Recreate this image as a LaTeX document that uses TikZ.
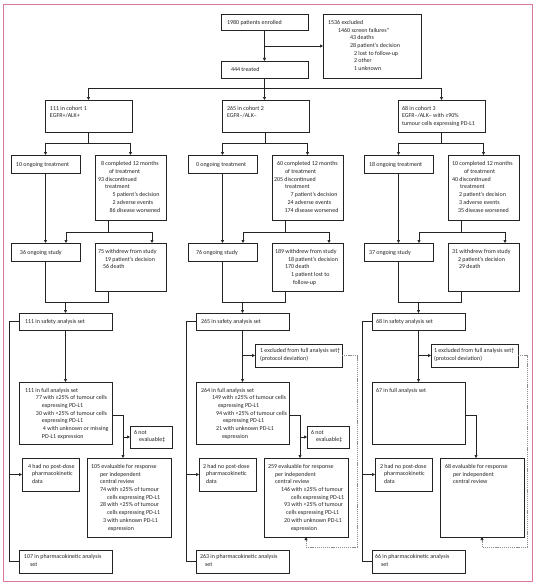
\documentclass[tikz,border=0pt]{standalone}
\usepackage{fontspec}
\setmainfont{Carlito}
\usetikzlibrary{arrows.meta}
\definecolor{framepink}{RGB}{218,118,150}
\definecolor{lnc}{RGB}{35,35,35}
\definecolor{dashc}{RGB}{140,140,140}
\newcommand\fs{\fontsize{6pt}{7.7pt}\selectfont\lineskiplimit=-20pt\relax}
\newcommand\tc[2]{\hspace*{#1pt}\mbox{#2}\par}
\newcommand\colx{0}
\newcommand\bx[7]{\node[boxst] (#1) at (\colx+#2,#3) {\parbox[c][\dimexpr #5pt-#3pt\relax][t]{\dimexpr #4pt-#2pt\relax}{\fs\rule{0pt}{#6pt}#7}};}
\newcommand\stdconn[1]{%
 \coordinate (#1j1) at (\colx+88.5,143);
 \coordinate (#1j2) at (\colx+108,232);
 \coordinate (#1xa) at (\colx+66,232);
 \coordinate (#1xc) at (\colx+152,232);
 \coordinate (#1j4) at (\colx+108,302);
 \coordinate (#1j3) at (\colx+65.5,302);
 \coordinate (#1j5) at (\colx+123,415);
 \coordinate (#1jl) at (\colx+9,561.5);
 \draw (#1coh.south) -- (#1j1);
 \draw[arr] (#1j1) -| (#1ot.north);
 \draw[arr] (#1j1) -| (#1cp.north);
 \draw[arr] (#1ot.south) -- (#1os.north);
 \draw (#1j2 |- #1cp.south) -- (#1j2);
 \draw (#1xa) -- (#1xc);
 \draw[arr] (#1xa) -- (#1xa |- #1os.north);
 \draw[arr] (#1xc) -- (#1xc |- #1wd.north);
 \draw (#1os.south) |- (#1j4) -- (#1j4 |- #1wd.south);
 \draw[arr] (#1j3) -- (#1j3 |- #1sf.north);
 \draw[arr] (#1sf.south) -- (#1fa.north);
 \draw[arr] (#1fa.east |- #1j5) -| (#1j5 |- #1ev.north);
 \draw (#1sf.west) -| (#1jl) -- (#1pk.west);
 \draw[arr] (#1jl |- #1pd.west) -- (#1pd.west);
}
\tikzset{
 boxst/.style={draw=lnc, line width=0.7pt, inner sep=0pt, outer sep=0pt, anchor=north west},
 arr/.style={-{Triangle[length=3pt,width=3pt]}},
 dline/.style={draw=dashc, dash pattern=on 1.2pt off 0.9pt, -{Triangle[length=3pt,width=3pt,color=lnc]}}
}
\begin{document}
\begin{tikzpicture}[x=1pt,y=-1pt,line width=0.7pt,color=lnc]
\useasboundingbox (0,0) rectangle (537,586);
\draw[framepink, line width=0.9pt] (3,4) rectangle (532,581);

% top
\bx{t1980}{221}{14}{308}{30}{10.4}{\tc{6}{1980 patients enrolled}}
\bx{t1536}{323}{14}{421}{78}{10.4}{%
 \tc{5}{1536 excluded}
 \tc{15}{1460 screen failures*}
 \tc{27}{43 deaths}
 \tc{27}{28 patient’s decision}
 \tc{31}{2 lost to follow-up}
 \tc{31}{2 other}
 \tc{31}{1 unknown}}
\bx{t444}{221}{61}{308}{78}{10}{\tc{10}{444 treated}}

% column 1
\renewcommand\colx{0}
\bx{c1coh}{45}{100}{132}{132}{10}{\tc{5}{111 in cohort 1}\tc{5}{EGFR+/ALK+}}
\bx{c1ot}{11}{155}{80}{173}{11.3}{\tc{5}{10 ongoing treatment}}
\bx{c1cp}{95}{155}{166}{220}{10.8}{%
 \tc{6}{8 completed 12 months}
 \tc{14}{of treatment}
 \tc{3}{93 discontinued}
 \tc{10}{treatment}
 \tc{17.5}{5 patient’s decision}
 \tc{17.5}{2 adverse events}
 \tc{14.5}{86 disease worsened}}
\bx{c1os}{11}{243}{80}{261}{11.5}{\tc{9}{36 ongoing study}}
\bx{c1wd}{95}{243}{166}{291}{10.4}{%
 \tc{3}{75 withdrew from study}
 \tc{10}{19 patient’s decision}
 \tc{8}{56 death}}
\bx{c1sf}{19}{313}{112}{330}{10.8}{\tc{6}{111 in safety analysis set}}
\bx{c1fa}{19}{382}{112}{444}{10}{%
 \tc{6}{111 in full analysis set}
 \tc{17}{77 with ≥25\% of tumour cells}
 \tc{23}{expressing PD-L1}
 \tc{17}{30 with <25\% of tumour cells}
 \tc{23}{expressing PD-L1}
 \tc{24}{4 with unknown or missing}
 \tc{23}{PD-L1 expression}}
\bx{c1ne}{130}{426}{172}{448}{8}{\tc{4}{6 not}\tc{9}{evaluable‡}}
\bx{c1pd}{22}{458}{79}{491}{10}{\tc{6}{4 had no post-dose}\tc{10}{pharmacokinetic}\tc{10}{data}}
\bx{c1ev}{87}{458}{171}{537}{10.4}{%
 \tc{4}{105 evaluable for response}
 \tc{13}{per independent}
 \tc{13}{central review}
 \tc{13}{74 with ≥25\% of tumour}
 \tc{20}{cells expressing PD-L1}
 \tc{13}{28 with <25\% of tumour}
 \tc{20}{cells expressing PD-L1}
 \tc{16}{3 with unknown PD-L1}
 \tc{21}{expression}}
\bx{c1pk}{19}{550}{112}{573}{8.6}{\tc{5}{107 in pharmacokinetic analysis}\tc{11}{set}}
\stdconn{c1}
\draw[arr] (c1j5 |- c1ne.west) -- (c1ne.west);

% column 2
\renewcommand\colx{177}
\bx{c2coh}{45}{100}{132}{132}{10}{\tc{5}{265 in cohort 2}\tc{5}{EGFR–/ALK–}}
\bx{c2ot}{11}{155}{80}{173}{11.3}{\tc{8}{0 ongoing treatment}}
\bx{c2cp}{95}{155}{166}{220}{10.8}{%
 \tc{5}{60 completed 12 months}
 \tc{13}{of treatment}
 \tc{2}{205 discontinued}
 \tc{13}{treatment}
 \tc{18.5}{7 patient’s decision}
 \tc{15.5}{24 adverse events}
 \tc{12.5}{174 disease worsened}}
\bx{c2os}{11}{243}{80}{261}{11.5}{\tc{8}{76 ongoing study}}
\bx{c2wd}{95}{243}{166}{291}{10.4}{%
 \tc{3}{189 withdrew from study}
 \tc{16}{18 patient’s decision}
 \tc{13}{170 death}
 \tc{19}{1 patient lost to}
 \tc{21}{follow-up}}
\bx{c2sf}{19}{313}{112}{330}{10.8}{\tc{5}{265 in safety analysis set}}
\bx{c2ex}{78}{344}{165}{367}{8.9}{\tc{5}{1 excluded from full analysis set†}\tc{5}{(protocol deviation)}}
\bx{c2fa}{19}{382}{112}{444}{10}{%
 \tc{5}{264 in full analysis set}
 \tc{16}{149 with ≥25\% of tumour cells}
 \tc{22}{expressing PD-L1}
 \tc{20}{94 with <25\% of tumour cells}
 \tc{27}{expressing PD-L1}
 \tc{20}{21 with unknown PD-L1}
 \tc{26}{expression}}
\bx{c2ne}{130}{426}{172}{448}{8}{\tc{4}{6 not}\tc{9}{evaluable‡}}
\bx{c2pd}{22}{458}{79}{491}{10}{\tc{4}{2 had no post-dose}\tc{7}{pharmacokinetic}\tc{7}{data}}
\bx{c2ev}{87}{458}{171}{537}{10.4}{%
 \tc{4}{259 evaluable for response}
 \tc{11}{per independent}
 \tc{11}{central review}
 \tc{17}{146 with ≥25\% of tumour}
 \tc{27}{cells expressing PD-L1}
 \tc{20}{93 with <25\% of tumour}
 \tc{22}{cells expressing PD-L1}
 \tc{20}{20 with unknown PD-L1}
 \tc{27}{expression}}
\bx{c2pk}{19}{550}{112}{573}{8.6}{\tc{4}{263 in pharmacokinetic analysis}\tc{9}{set}}
\stdconn{c2}
\draw[arr] (c2j5 |- c2ne.west) -- (c2ne.west);
\draw[arr] (c2sf.south |- c2ex.west) -- (c2ex.west);
\coordinate (c2jd) at (357,547);
\draw[dline] (c2ex.east) -| (c2jd) -| (c2ev.south);

% column 3
\renewcommand\colx{353}
\bx{c3coh}{45}{100}{132}{132}{10}{\tc{4}{68 in cohort 3}\tc{4}{EGFR–/ALK– with ≥90\%}\tc{4}{tumour cells expressing PD-L1}}
\bx{c3ot}{11}{155}{80}{173}{11.3}{\tc{5}{18 ongoing treatment}}
\bx{c3cp}{95}{155}{166}{220}{10.8}{%
 \tc{4}{10 completed 12 months}
 \tc{16}{of treatment}
 \tc{4}{40 discontinued}
 \tc{12}{treatment}
 \tc{11}{2 patient’s decision}
 \tc{11}{3 adverse events}
 \tc{10}{35 disease worsened}}
\bx{c3os}{11}{243}{80}{261}{11.5}{\tc{5}{37 ongoing study}}
\bx{c3wd}{95}{243}{166}{291}{10.4}{%
 \tc{4}{31 withdrew from study}
 \tc{10}{2 patient’s decision}
 \tc{11}{29 death}}
\bx{c3sf}{19}{313}{112}{330}{10.8}{\tc{4}{68 in safety analysis set}}
\bx{c3ex}{78}{344}{165}{367}{8.9}{\tc{3}{1 excluded from full analysis set†}\tc{3}{(protocol deviation)}}
\bx{c3fa}{19}{382}{112}{444}{10}{\tc{4}{67 in full analysis set}}
\bx{c3pd}{22}{458}{79}{491}{10}{\tc{5}{2 had no post-dose}\tc{9}{pharmacokinetic}\tc{9}{data}}
\bx{c3ev}{87}{458}{171}{537}{10.4}{%
 \tc{5}{68 evaluable for response}
 \tc{13}{per independent}
 \tc{13}{central review}}
\bx{c3pk}{19}{550}{112}{573}{8.6}{\tc{3}{66 in pharmacokinetic analysis}\tc{9}{set}}
\stdconn{c3}
\draw[arr] (c3sf.south |- c3ex.west) -- (c3ex.west);
\coordinate (c3jd) at (527,547);
\draw[dline] (c3ex.east) -| (c3jd) -| (c3ev.south);

% top connectors
\coordinate (jt) at (264.5,88);
\draw[arr] (t1980.south) -- (t444.north);
\draw[arr] (t1980.south |- t1536.west) -- (t1536.west);
\draw[arr] (t444.south) -- (t444.south |- c2coh.north);
\draw[arr] (jt) -| (c1coh.north);
\draw[arr] (jt) -| (c3coh.north);
\end{tikzpicture}
\end{document}
